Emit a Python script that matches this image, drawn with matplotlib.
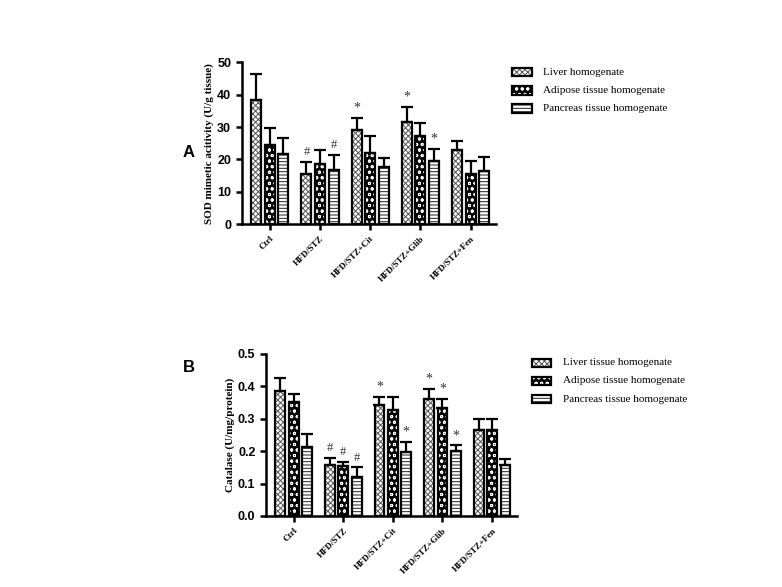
import numpy as np
import matplotlib.pyplot as plt

groups = ['Ctrl', 'HFD/STZ', 'HFD/STZ+Cit', 'HFD/STZ+Glib', 'HFD/STZ+Fen']

# panel A: SOD mimetic activity
sod_liver = [38.4, 15.5, 29.2, 31.7, 22.8]
sod_liver_err = [8.0, 3.8, 3.6, 4.4, 2.8]
sod_adipose = [24.3, 18.6, 22.1, 27.3, 15.6]
sod_adipose_err = [5.5, 4.4, 5.2, 3.9, 3.9]
sod_pancreas = [21.6, 16.6, 17.7, 19.5, 16.4]
sod_pancreas_err = [4.9, 4.9, 2.8, 3.7, 4.2]
sod_marks = {(0, 1): '#', (2, 1): '#', (0, 2): '*', (0, 3): '*', (2, 3): '*'}
sod_labels = ['Liver homogenate', 'Adipose tissue homogenate', 'Pancreas tissue homogenate']

# panel B: catalase
cat_liver = [0.387, 0.156, 0.342, 0.362, 0.264]
cat_liver_err = [0.040, 0.024, 0.026, 0.029, 0.034]
cat_adipose = [0.351, 0.155, 0.327, 0.333, 0.264]
cat_adipose_err = [0.024, 0.013, 0.041, 0.029, 0.034]
cat_pancreas = [0.213, 0.121, 0.196, 0.202, 0.157]
cat_pancreas_err = [0.041, 0.030, 0.032, 0.016, 0.020]
cat_marks = {(0, 1): '#', (1, 1): '#', (2, 1): '#', (0, 2): '*', (2, 2): '*',
             (0, 3): '*', (1, 3): '*', (2, 3): '*'}
cat_labels = ['Liver tissue homogenate', 'Adipose tissue homogenate', 'Pancreas tissue homogenate']

serif = 'Liberation Serif'
sans = 'Liberation Sans'
plt.rcParams['hatch.linewidth'] = 0.7


def fill_bar(ax, x, vals, w, style):
    if style == 0:
        ax.bar(x, vals, w, color='white', edgecolor='#555555', hatch='xxxxxx', linewidth=0)
    elif style == 1:
        ax.bar(x, vals, w, color='black', edgecolor='white', hatch='ooo', linewidth=0)
    else:
        ax.bar(x, vals, w, color='white', edgecolor='#222222', hatch='-----', linewidth=0)
    ax.bar(x, vals, w, fill=False, edgecolor='black', linewidth=1.6, clip_on=False)


def panel(rect, data, marks, ymax, yticks, ylabel, labels, letter, letter_xy, leg_xy, fmt):
    ax = fig.add_axes(rect)
    x = np.arange(len(groups))
    offs = [-0.27, 0, 0.27]
    for i, (vals, errs) in enumerate(data):
        fill_bar(ax, x + offs[i], vals, 0.2, i)
        ax.errorbar(x + offs[i], vals, yerr=[np.zeros(len(vals)), errs], fmt='none',
                    ecolor='black', elinewidth=1.6, capsize=4, capthick=1.6)
    unit = ymax / 50.0
    for (i, g), m in marks.items():
        vals, errs = data[i]
        top = vals[g] + errs[g]
        ax.text(g + offs[i], top + 1.0 * unit, m, ha='center', va='bottom',
                fontsize=10 if m == '*' else 9, family=serif, color='#333333')
    ax.set_xlim(-0.56, 4.5)
    ax.set_ylim(0, ymax)
    ax.set_yticks(yticks)
    ax.set_yticklabels([fmt % t for t in yticks], fontsize=9, family=sans, fontweight='bold')
    ax.set_xticks(x)
    ax.set_xticklabels(groups, rotation=45, ha='right', rotation_mode='anchor',
                       fontsize=6.5, family=serif, fontweight='bold')
    ax.set_ylabel(ylabel, fontsize=8, family=serif, fontweight='bold', labelpad=2)
    for s in ['top', 'right']:
        ax.spines[s].set_visible(False)
    for s in ['left', 'bottom']:
        ax.spines[s].set_linewidth(1.8)
    ax.tick_params(width=1.8, length=4, direction='out')
    fig.text(letter_xy[0], letter_xy[1], letter, fontsize=12, family=sans,
             fontweight='bold', ha='center', va='center')
    # legend
    lx, ly = leg_xy
    for i, lab in enumerate(labels):
        yy = ly - i * 0.031
        r = fig.add_axes([lx, yy - 0.007, 0.025, 0.014])
        r.set_xlim(0, 1)
        r.set_ylim(0, 1)
        r.axis('off')
        fill_bar(r, [0.5], [1], 1, i)
        fig.text(lx + 0.04, yy, lab, fontsize=8, family=serif, va='center', ha='left')
    return ax


fig = plt.figure(figsize=(7.82, 5.87), dpi=100)

panel([0.309, 0.618, 0.325, 0.276],
      [(sod_liver, sod_liver_err), (sod_adipose, sod_adipose_err), (sod_pancreas, sod_pancreas_err)],
      sod_marks, 50, [0, 10, 20, 30, 40, 50], 'SOD mimetic acitivity (U/g tissue)',
      sod_labels, 'A', (0.241, 0.741), (0.655, 0.877), '%d')

panel([0.340, 0.121, 0.321, 0.276],
      [(cat_liver, cat_liver_err), (cat_adipose, cat_adipose_err), (cat_pancreas, cat_pancreas_err)],
      cat_marks, 0.5, [0.0, 0.1, 0.2, 0.3, 0.4, 0.5], 'Catalase (U/mg/protein)',
      cat_labels, 'B', (0.241, 0.374), (0.68, 0.382), '%.1f')

plt.savefig('out.png', dpi=100)
